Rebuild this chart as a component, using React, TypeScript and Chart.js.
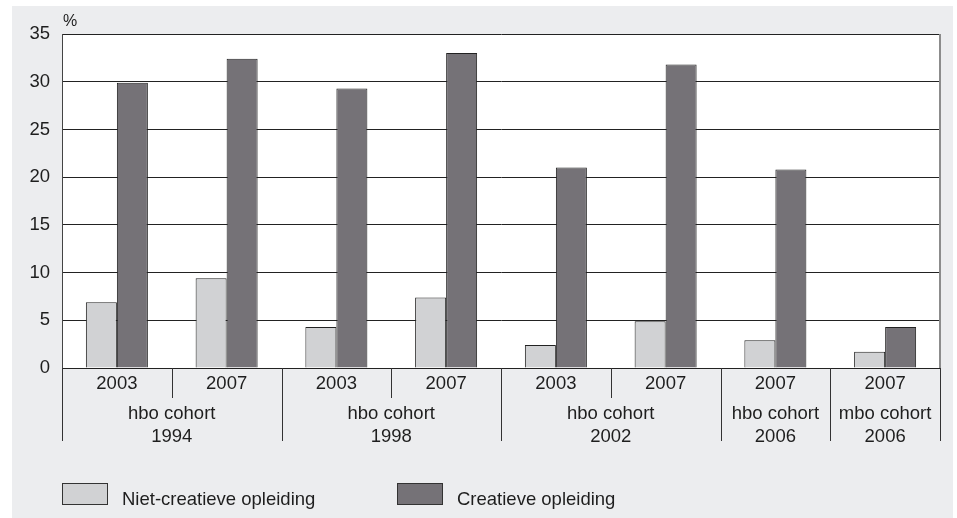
import React, { useEffect, useRef } from 'react';
import { Chart, registerables } from 'chart.js';

Chart.register(...registerables);

// ---- data ----
const years = ['2003', '2007', '2003', '2007', '2003', '2007', '2007', '2007'];
const cohortLabels = [
  ['hbo cohort', '1994'],
  ['hbo cohort', '1998'],
  ['hbo cohort', '2002'],
  ['hbo cohort', '2006'],
  ['mbo cohort', '2006'],
];
const cohortSpans = [2, 2, 2, 1, 1];
const nietCreatief = [6.9, 9.4, 4.3, 7.4, 2.4, 4.9, 2.9, 1.7];
const creatief = [29.9, 32.4, 29.3, 33.0, 21.0, 31.8, 20.8, 4.3];
const seriesNames = ['Niet-creatieve opleiding', 'Creatieve opleiding'];
const yMin = 0;
const yMax = 35;
const yStep = 5;
const yUnit = '%';

const FONT = '"Liberation Sans", Arial, Helvetica, sans-serif';
const TEXT = '#1e1e1e';
const LIGHT = '#d1d2d4';
const DARK = '#757277';
const PANEL = '#ecedef';

const decorPlugin = {
  id: 'decor',
  beforeDraw(chart: any) {
    const { ctx, chartArea } = chart;
    ctx.save();
    ctx.fillStyle = '#ffffff';
    ctx.fillRect(0, 0, chart.width, chart.height);
    ctx.fillStyle = PANEL;
    ctx.fillRect(12, 6, 941, chart.height - 6);
    ctx.fillStyle = '#ffffff';
    ctx.fillRect(chartArea.left, chartArea.top, chartArea.right - chartArea.left, chartArea.bottom - chartArea.top);
    ctx.restore();
  },
  afterDraw(chart: any) {
    const { ctx, chartArea, scales } = chart;
    const x = scales.x;
    const n = chart.data.labels.length;
    const half = (x.getPixelForValue(1) - x.getPixelForValue(0)) / 2;
    const bottom = chartArea.bottom;
    ctx.save();
    // right border of plot
    ctx.strokeStyle = '#8c8c8c';
    ctx.lineWidth = 2;
    ctx.beginPath();
    ctx.moveTo(chartArea.right, chartArea.top);
    ctx.lineTo(chartArea.right, bottom);
    ctx.stroke();
    // separators
    ctx.strokeStyle = '#333';
    ctx.lineWidth = 1;
    let idx = 0;
    const longAt: number[] = [0];
    cohortSpans.forEach((s) => { idx += s; longAt.push(idx); });
    for (let b = 0; b <= n; b++) {
      const px = Math.round(x.getPixelForValue(b) - half) + 0.5;
      const isLong = longAt.includes(b);
      ctx.beginPath();
      ctx.moveTo(px, bottom);
      ctx.lineTo(px, isLong ? bottom + 73 : bottom + 30);
      ctx.stroke();
    }
    // cohort labels
    ctx.fillStyle = TEXT;
    ctx.font = `18.5px ${FONT}`;
    ctx.textAlign = 'center';
    ctx.textBaseline = 'alphabetic';
    let start = 0;
    cohortLabels.forEach((lines, i) => {
      const end = start + cohortSpans[i] - 1;
      const cx = (x.getPixelForValue(start) + x.getPixelForValue(end)) / 2;
      ctx.fillText(lines[0], cx, bottom + 51);
      ctx.fillText(lines[1], cx, bottom + 73.5);
      start += cohortSpans[i];
    });
    // unit
    ctx.textAlign = 'left';
    ctx.font = `16px ${FONT}`;
    ctx.fillText(yUnit, chartArea.left + 1, chartArea.top - 8);
    // legend
    const legendX = [62, 397];
    chart.data.datasets.forEach((ds: any, i: number) => {
      const lx = legendX[i];
      ctx.fillStyle = ds.backgroundColor;
      ctx.fillRect(lx, 483, 46, 22);
      ctx.strokeStyle = '#333';
      ctx.lineWidth = 1;
      ctx.strokeRect(lx + 0.5, 483.5, 45, 21);
      ctx.fillStyle = TEXT;
      ctx.font = `18.5px ${FONT}`;
      ctx.fillText(ds.label, lx + 60, 505);
    });
    ctx.restore();
  },
};

export default function App() {
  const ref = useRef<HTMLCanvasElement>(null);
  useEffect(() => {
    document.body.style.margin = '0';
    const canvas = ref.current!;
    const chart = new Chart(canvas, {
      type: 'bar',
      data: {
        labels: years,
        datasets: [
          {
            label: seriesNames[0],
            data: nietCreatief,
            backgroundColor: LIGHT,
            borderColor: '#222',
            borderWidth: 1,
            barPercentage: 1,
            categoryPercentage: 0.565,
          },
          {
            label: seriesNames[1],
            data: creatief,
            backgroundColor: DARK,
            borderColor: '#222',
            borderWidth: 1,
            barPercentage: 1,
            categoryPercentage: 0.565,
          },
        ],
      },
      options: {
        responsive: false,
        animation: false,
        devicePixelRatio: 1,
        layout: { padding: { top: 34, right: 17, left: 0, bottom: 0 } },
        plugins: { legend: { display: false }, tooltip: { enabled: false }, title: { display: false } },
        scales: {
          x: {
            grid: { display: false, drawTicks: false },
            border: { display: false },
            ticks: { color: TEXT, font: { family: FONT, size: 18.5 }, padding: 5, maxRotation: 0, autoSkip: false },
            afterFit: (s: any) => { s.height = 150; },
          },
          y: {
            min: yMin,
            max: yMax,
            grid: { color: '#222', lineWidth: 1, drawTicks: false },
            border: { color: '#444', width: 1 },
            ticks: { stepSize: yStep, color: TEXT, font: { family: FONT, size: 18.5 }, padding: 12 },
            afterFit: (s: any) => { s.width = 62; },
          },
        },
      },
      plugins: [decorPlugin],
    });
    return () => chart.destroy();
  }, []);
  return <canvas ref={ref} width={957} height={518} style={{ display: 'block' }} />;
}
